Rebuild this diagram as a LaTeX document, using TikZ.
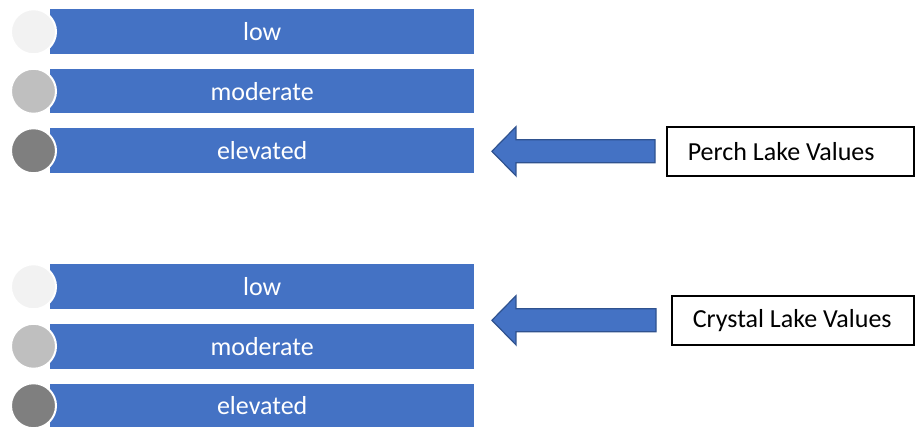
\documentclass[tikz,border=0pt]{standalone}
\usepackage{fontspec}
\setmainfont{Carlito}
\usetikzlibrary{positioning,calc}

\definecolor{barblue}{HTML}{4472C4}
\definecolor{arrowedge}{HTML}{2F528F}
\definecolor{lvlow}{HTML}{F2F2F2}
\definecolor{lvmid}{HTML}{BFBFBF}
\definecolor{lvhigh}{HTML}{7F7F7F}

\tikzset{
	levelbar/.style={fill=barblue, minimum width=424pt, minimum height=44.5pt,
		inner sep=0pt, text=white, anchor=west},
	leveldot/.style={circle, fill=#1, draw=white, line width=2pt,
		minimum size=45pt, inner sep=0pt},
	lakebox/.style={draw, line width=1.6pt, minimum height=49pt, text width=#1,
		inner xsep=0pt, inner ysep=0pt, align=flush left, anchor=north west,
		execute at begin node=\hspace*{21pt}}
}
\tikzset{blockarrow/.style={fill=barblue, draw=arrowedge, line width=1.2pt, line join=miter}}

\begin{document}
\begin{tikzpicture}[x=1pt, y=-1pt, font=\fontsize{26}{30}\selectfont]
	\useasboundingbox (0,0) rectangle (915,427);
	% two stacks of levels, p on top and c below
	\foreach \g/\dy in {p/0, c/255} {
		\foreach \i/\lvl/\col in {1/low/lvlow, 2/moderate/lvmid, 3/elevated/lvhigh} {
			\pgfmathsetmacro{\yy}{\dy + 31.75 + (\i-1)*59.5}
			\node[levelbar] (bar-\g\i) at (50,\yy) {\lvl};
			\node[leveldot=\col] (dot-\g\i) at (33.5,\yy) {};
		}
	}
	\node[lakebox=247pt] (perch) at (666,126) {Perch Lake Values};
	\node[lakebox=242pt] (crystal) at (671,295) {Crystal Lake Values};
	% block arrows pointing back at the stacks
	\foreach \b/\gap in {perch/11, crystal/15} {
		\coordinate (tip-\b) at ([xshift=17.5pt]bar-p3.east |- \b.west);
		\coordinate (tail-\b) at ([xshift=-\gap pt]\b.west);
		\draw[blockarrow] let \p1=(tip-\b), \p2=(tail-\b) in
			(\p1) -- ++(24pt,24.5pt) -- ++(0,-13pt) -- (\x2,\y1+11.5pt)
			-- (\x2,\y1-11.5pt) -- (\x1+24pt,\y1-11.5pt) -- ++(0,-13pt) -- cycle;
	}
\end{tikzpicture}
\end{document}
